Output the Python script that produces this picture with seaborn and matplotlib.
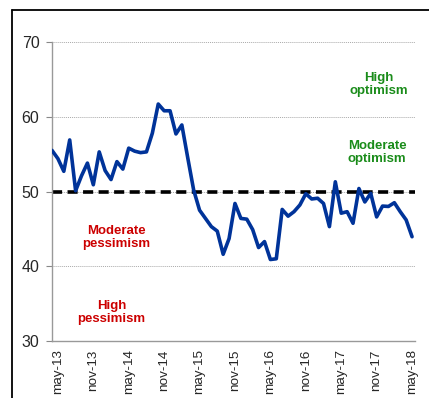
import matplotlib
matplotlib.use("Agg")
import matplotlib.pyplot as plt
from matplotlib.lines import Line2D
import seaborn as sns
import pandas as pd
import numpy as np

# Monthly index, apr-13 .. may-18 (62 points)
values = [55.5, 54.4, 52.7, 56.9, 50.1, 52.1, 53.8, 50.9, 55.3, 52.8,
          51.6, 54.0, 53.0, 55.8, 55.4, 55.2, 55.3, 57.8, 61.7, 60.8,
          60.8, 57.7, 58.9, 54.5, 50.2, 47.5, 46.4, 45.3, 44.7, 41.6,
          43.7, 48.4, 46.4, 46.3, 44.9, 42.5, 43.3, 40.9, 41.0, 47.6,
          46.7, 47.3, 48.2, 49.7, 49.0, 49.1, 48.4, 45.3, 51.3, 47.1,
          47.3, 45.75, 50.4, 48.6, 49.75, 46.6, 48.05, 48.0, 48.5, 47.3,
          46.2, 43.95]
tick_labels = ["may-13", "nov-13", "may-14", "nov-14", "may-15", "nov-15",
               "may-16", "nov-16", "may-17", "nov-17", "may-18"]
tick_positions = [1, 7, 13, 19, 25, 31, 37, 43, 49, 55, 61]
threshold = 50
zone_texts = ["High\noptimism", "Moderate\noptimism", "Moderate\npessimism", "High\npessimism"]
zone_x = [55.3, 55.1, 10.9, 10.1]
zone_y = [64.3, 55.2, 43.8, 33.8]
zone_colors = ["#1a8c1a", "#1a8c1a", "#cc0000", "#cc0000"]

sns.set_style("white")
plt.rcParams['font.family'] = ['Liberation Sans', 'DejaVu Sans']

df = pd.DataFrame({"t": np.arange(len(values)), "v": values})

fig = plt.figure(figsize=(4.29, 3.98), dpi=100)
ax = fig.add_axes([52/429, 1-341/398, (415-52)/429, (341-42)/398])

for g in [40, 50, 60, 70]:
    ax.axhline(g, color="#aaaaaa", lw=0.7, ls=(0, (1, 1)), zorder=1)
ax.axhline(threshold, color="black", lw=2.6, ls=(0, (2.8, 1.5)), zorder=2)

sns.lineplot(data=df, x="t", y="v", ax=ax, color="#003399", lw=2.6, zorder=3)

ax.set_xlim(0, 61.5)
ax.set_ylim(30, 70)
ax.set_yticks([30, 40, 50, 60, 70])
ax.set_xticks(tick_positions)
ax.set_xticklabels(tick_labels, rotation=90, fontsize=9.7)
ax.tick_params(axis="y", labelsize=11.5, length=4, width=0.8, color="#888888", pad=5, left=True)
ax.tick_params(axis="x", length=0, pad=6)
ax.set_xlabel("")
ax.set_ylabel("")

for s in ["top", "right"]:
    ax.spines[s].set_visible(False)
for s in ["left", "bottom"]:
    ax.spines[s].set_color("#999999")
    ax.spines[s].set_linewidth(1.0)

for txt, x, y, c in zip(zone_texts, zone_x, zone_y, zone_colors):
    ax.text(x, y, txt, color=c, fontsize=9.5, fontweight="bold",
            ha="center", va="center", linespacing=1.1)

# outer frame lines (top and left)
fig.add_artist(Line2D([12/429, 1], [1-10/398, 1-10/398], color="black", lw=1.3, transform=fig.transFigure))
fig.add_artist(Line2D([12/429, 12/429], [0, 1-10/398], color="black", lw=1.3, transform=fig.transFigure))

fig.savefig("out.png", dpi=100)
